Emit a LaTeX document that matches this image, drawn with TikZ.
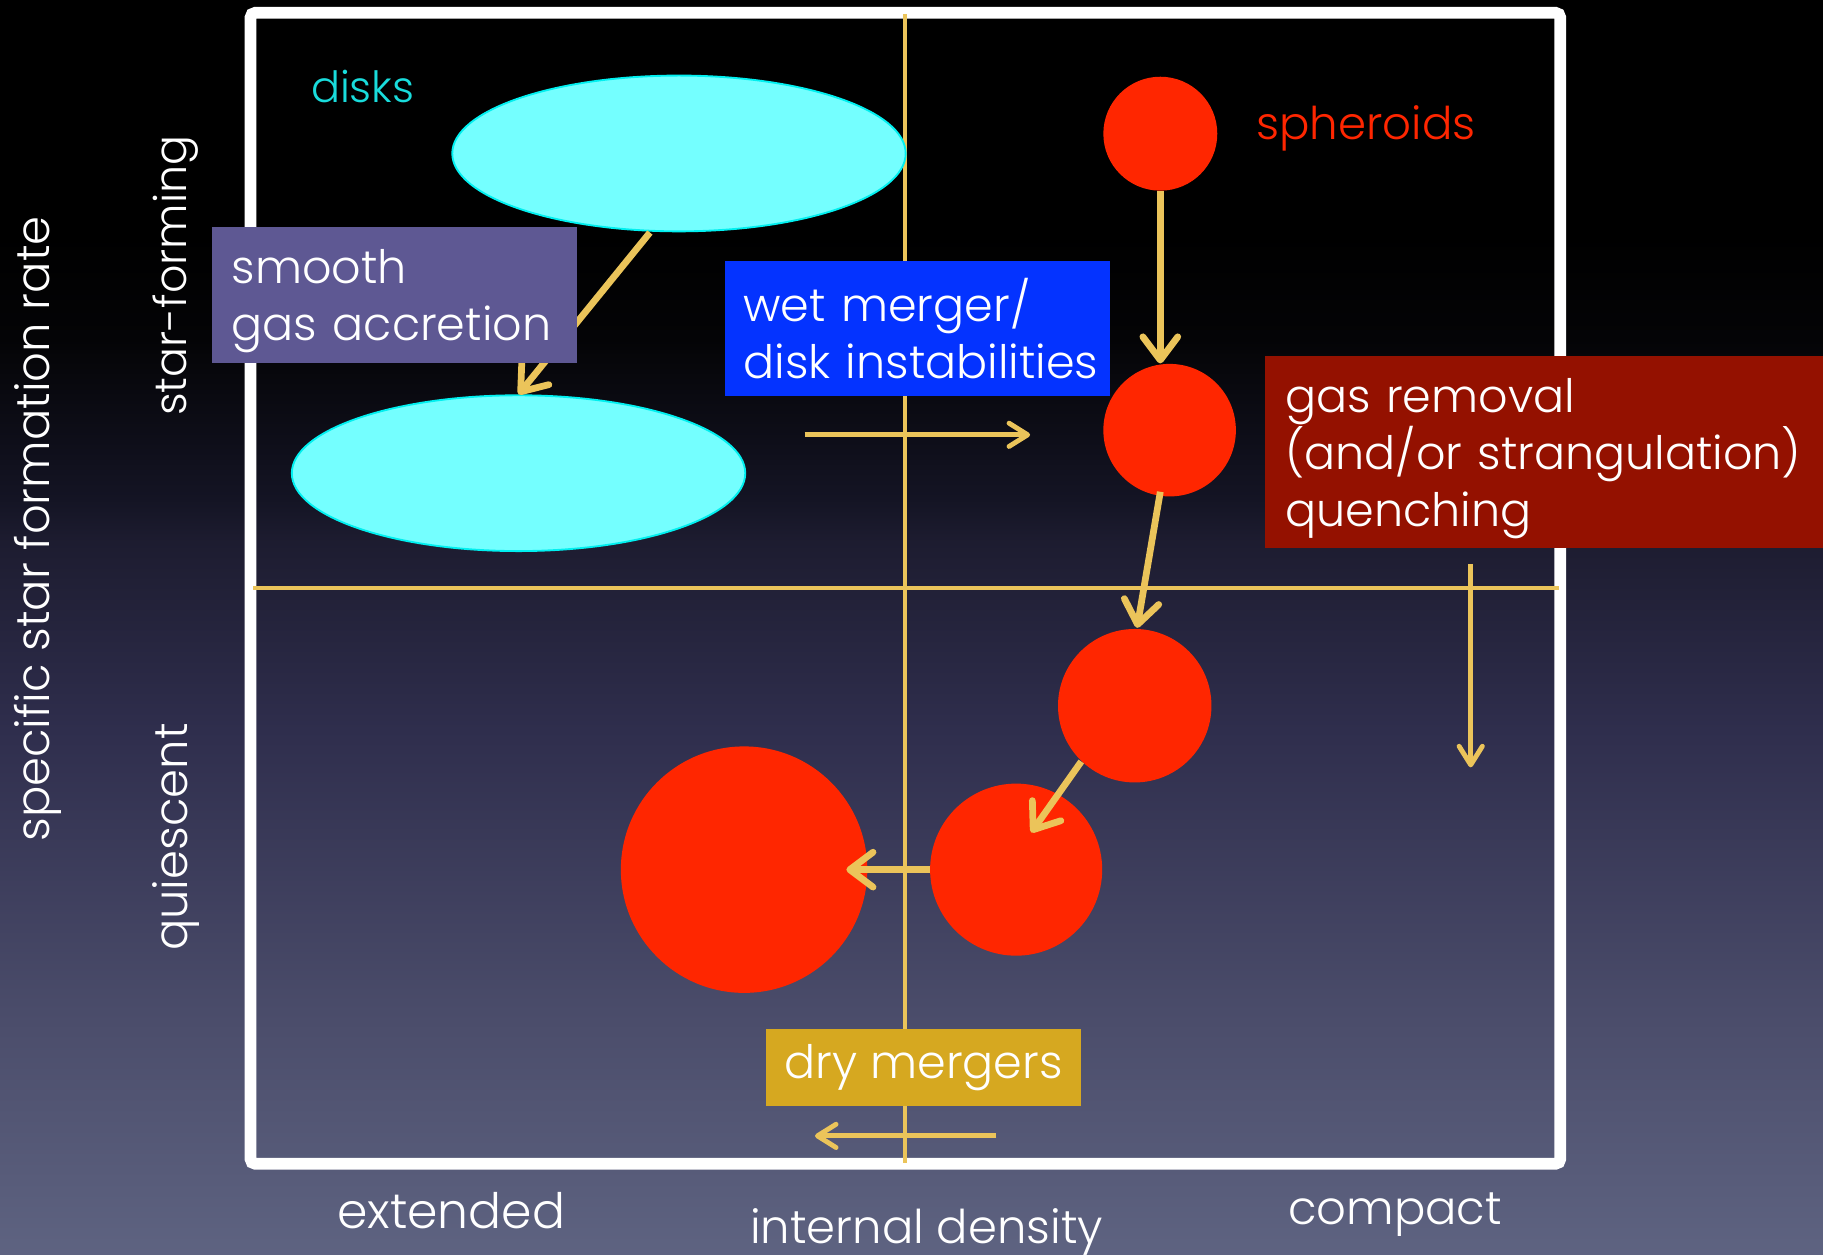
\documentclass[tikz,border=0pt]{standalone}
\usepackage{fontspec}
\setmainfont{Poppins}[UprightFont=* Light]
\usetikzlibrary{shapes.geometric,arrows.meta,calc}
\hyphenpenalty=10000
\exhyphenpenalty=10000

\definecolor{gold}{HTML}{EBC45A}
\definecolor{diskfill}{HTML}{74FFFF}
\definecolor{diskedge}{HTML}{00F0F0}
\definecolor{disktext}{HTML}{19DCDC}
\definecolor{sphred}{HTML}{FF2600}
\definecolor{smoothbox}{HTML}{5E5893}
\definecolor{wetbox}{HTML}{0433FF}
\definecolor{gasbox}{HTML}{941100}
\definecolor{drybox}{HTML}{D6A820}
\definecolor{bgA}{HTML}{5E6381}
\definecolor{bgB}{HTML}{4C4E6C}
\definecolor{bgC}{HTML}{2F2E4D}
\definecolor{bgD}{HTML}{1D1C30}
\definecolor{bgE}{HTML}{141424}
\definecolor{bgF}{HTML}{040406}

% night-sky backdrop, dark at the top and slate blue at the bottom
\pgfdeclareverticalshading{skyfade}{100bp}{%
  color(0bp)=(bgA); color(25bp)=(bgA); color(33.9bp)=(bgB);
  color(45.9bp)=(bgC); color(53.4bp)=(bgD); color(55.1bp)=(bgE);
  color(61.5bp)=(bgF); color(65.7bp)=(black); color(100bp)=(black)}

% taller first line, so the text block sits a little lower in its box
\newcommand{\firstline}{\rule{0pt}{20pt}}

\tikzset{
  disk/.style={ellipse, fill=diskfill, draw=diskedge, line width=0.8pt,
    inner sep=0pt, minimum width=195pt, minimum height=67pt},
  ball/.style={circle, fill=sphred, inner sep=0pt},
  flow/.style={draw=gold, line width=2.9pt,
    -{Straight Barb[length=10pt,width=15pt,line cap=round,line join=round]}},
  thinflow/.style={draw=gold, line width=2.1pt,
    -{Straight Barb[length=8pt,width=10pt,line cap=round,line join=round]}},
  axisline/.style={draw=gold, line width=1.7pt},
  boxfont/.style={font=\fontsize{19.8}{24.5}\selectfont},
  labelbox/.style={rectangle, anchor=north west, inner ysep=0pt, align=left,
    text=white, boxfont},
  axislabel/.style={text=white, inner sep=0pt, font=\fontsize{20}{24}\selectfont},
}

\begin{document}
\begin{tikzpicture}[x=0.5pt, y=-0.5pt]
  \useasboundingbox (0,0) rectangle (1568,1079);
  \shade[shading=skyfade] (0,0) rectangle (1568,1079);

  % plot frame and quadrant dividers
  \draw[white, line width=5pt, rounded corners=2pt] (215.5,11) rectangle (1342,1001);
  \draw[axisline] (778,12) -- (778,1000);
  \draw[axisline] (218,506) -- (1341,506);

  % disk galaxies
  \node[disk] (d1) at (584,132) {};
  \node[disk] (d2) at (446,407) {};

  % spheroids
  \node[ball, minimum size=49pt] (c1) at (998,115) {};
  \node[ball, minimum size=57pt] (c2) at (1006,370) {};
  \node[ball, minimum size=66pt] (c3) at (976,607) {};
  \node[ball, minimum size=74pt] (c4) at (874,748) {};
  \node[ball, minimum size=106pt] (c5) at (640,748) {};

  % evolutionary paths
  \draw[flow] ($(d1.center)+(-25,68)$) -- (d2.north);
  \draw[flow] (c1.south) -- (c1.south |- c2.north);
  \draw[flow] ($(c2.center)+(-8,53)$) -- ($(c3.center)+(2,-67)$);
  \draw[flow] ($(c3.center)+(-46,48)$) -- ($(c4.center)+(13,-32)$);
  \draw[flow] (c4.west) -- ($(c5.center)+(88,0)$);

  \coordinate (wetA) at (692,374);
  \coordinate (wetB) at (886,374);
  \draw[thinflow] (wetA) -- (wetB);
  \coordinate (quA) at (1265,485);
  \coordinate (quB) at (1265,660);
  \draw[thinflow] (quA) -- (quB);
  \coordinate (dryA) at (857,977);
  \coordinate (dryB) at (701,977);
  \draw[thinflow] (dryA) -- (dryB);

  % process labels
  \node[labelbox, fill=smoothbox, minimum width=157pt, minimum height=58.5pt,
        inner xsep=8.5pt, text width=140pt] (smooth) at (182,195)
        {\firstline smooth\\\mbox{gas accretion}};
  \node[labelbox, fill=wetbox, minimum width=165.5pt, minimum height=58.3pt,
        inner xsep=8pt, text width=149.5pt] (wet) at (623,224)
        {wet merger/\\\mbox{disk instabilities}};
  \node[labelbox, fill=gasbox, minimum width=240pt, minimum height=82.5pt,
        inner xsep=8.5pt, text width=223pt] (gas) at (1088,306)
        {\firstline gas removal\\\mbox{(and/or strangulation)}\\quenching};
  \node[rectangle, fill=drybox, text=white, boxfont, inner sep=0pt,
        minimum width=135.5pt, minimum height=33pt] (dry) at (794.5,918)
        {\raisebox{-2pt}{dry mergers}};

  % class names
  \node[text=disktext, inner sep=0pt, font=\fontsize{18.5}{22}\selectfont] (dlab) at (312,74) {disks};
  \node[text=sphred, inner sep=0pt, font=\fontsize{19.4}{23}\selectfont] (slab) at (1175,110) {spheroids};

  % axis titles
  \node[axislabel, rotate=90] (ssfr) at (33,455) {specific star formation rate};
  \node[axislabel, rotate=90, font=\fontsize{19.1}{23}\selectfont] (sf) at (151,237) {star-forming};
  \node[axislabel, rotate=90] (qu) at (151,720) {quiescent};
  \node[axislabel, font=\fontsize{21}{24}\selectfont] (ext) at (388,1041) {extended};
  \node[axislabel] (dens) at (797,1060) {internal density};
  \node[axislabel] (comp) at (1200,1045) {compact};
\end{tikzpicture}
\end{document}
